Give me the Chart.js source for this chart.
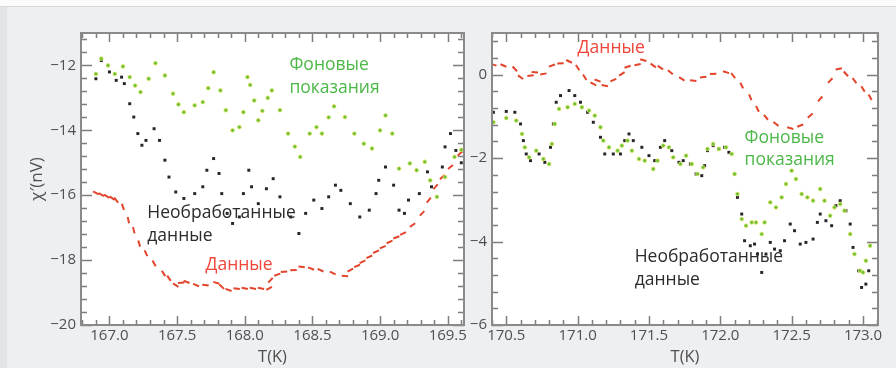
<!DOCTYPE html>
<html>
<head>
<meta charset="utf-8">
<script src="https://cdn.jsdelivr.net/npm/chart.js@4.4.1/dist/chart.umd.min.js"></script>
<style>
  html, body { margin: 0; padding: 0; }
  body { width: 896px; height: 368px; background: #eeeff1; position: relative; overflow: hidden; font-family: 'Open Sans', sans-serif; }
  #topStrip { position: absolute; left: 0; top: 0; width: 896px; height: 6px; background: #fbfbfb; border-bottom: 1px solid #d6d7d9; }
  #leftStrip { position: absolute; left: 0; top: 7px; width: 7px; height: 361px; background: #e3e4e6; }
  canvas { position: absolute; top: 0; }
  #leftChart { left: 0; }
  #rightChart { left: 450px; }
</style>
</head>
<body>
<div id="topStrip"></div>
<div id="leftStrip"></div>
<canvas id="leftChart" width="470" height="368"></canvas>
<canvas id="rightChart" width="446" height="368"></canvas>
<script>
// ---- left panel (167-169.5 K) ----
const xTicksLeft = [167.0, 167.5, 168.0, 168.5, 169.0, 169.5];
const yTicksLeft = [-20, -18, -16, -14, -12];

// background readings (green)
const bgLeftT = [166.90, 166.94, 166.99, 167.04, 167.10, 167.15, 167.19, 167.23, 167.29, 167.34, 167.41, 167.47, 167.51, 167.55, 167.63, 167.69, 167.73, 167.77, 167.82, 167.86, 167.91, 167.96, 167.99, 168.02, 168.04, 168.07, 168.10, 168.13, 168.17, 168.20, 168.26, 168.32, 168.37, 168.41, 168.48, 168.53, 168.57, 168.62, 168.66, 168.74, 168.81, 168.88, 168.94, 169.00, 169.04, 169.09, 169.14, 169.22, 169.27, 169.33, 169.37, 169.42, 169.48, 169.55, 169.60];
const bgLeftV = [-12.26, -11.79, -12.00, -12.26, -12.03, -12.36, -12.62, -12.82, -12.41, -11.93, -12.31, -12.87, -13.20, -13.44, -13.23, -13.13, -12.70, -12.21, -12.77, -13.38, -14.00, -13.90, -13.44, -12.36, -12.60, -13.08, -13.69, -13.40, -13.00, -12.77, -13.38, -14.10, -14.50, -14.82, -14.10, -13.90, -14.10, -13.60, -13.26, -13.59, -14.10, -14.41, -14.56, -14.00, -13.54, -14.10, -15.18, -15.02, -15.23, -14.97, -15.54, -16.05, -15.44, -14.82, -14.60];

// raw data (black)
const rawLeftT = [166.90, 166.94, 167.00, 167.05, 167.09, 167.11, 167.15, 167.18, 167.21, 167.24, 167.27, 167.33, 167.37, 167.41, 167.44, 167.49, 167.55, 167.63, 167.69, 167.72, 167.77, 167.81, 167.83, 167.87, 167.91, 167.96, 167.99, 168.03, 168.05, 168.10, 168.16, 168.21, 168.26, 168.34, 168.40, 168.45, 168.51, 168.57, 168.62, 168.67, 168.71, 168.78, 168.85, 168.92, 168.97, 168.99, 169.04, 169.10, 169.14, 169.18, 169.21, 169.29, 169.35, 169.38, 169.46, 169.48, 169.52, 169.56, 169.60];
const rawLeftV = [-12.41, -11.85, -12.20, -12.46, -12.36, -12.56, -13.18, -13.59, -14.10, -14.46, -14.31, -13.95, -14.31, -14.92, -15.44, -15.90, -16.10, -15.95, -15.74, -15.23, -14.87, -15.33, -15.95, -16.56, -16.87, -16.67, -15.95, -15.23, -15.74, -16.26, -15.80, -15.49, -16.05, -16.67, -17.18, -16.56, -16.15, -16.41, -16.05, -15.69, -15.85, -16.26, -16.67, -16.46, -15.95, -15.54, -15.13, -15.69, -16.46, -16.56, -16.15, -15.95, -15.28, -15.74, -15.13, -14.51, -14.10, -14.62, -15.00];

// data (red)
const dataLeftT = [166.90, 166.94, 166.98, 167.02, 167.05, 167.10, 167.14, 167.18, 167.22, 167.27, 167.33, 167.40, 167.44, 167.49, 167.53, 167.57, 167.64, 167.71, 167.79, 167.83, 167.88, 167.94, 168.00, 168.06, 168.12, 168.18, 168.19, 168.24, 168.29, 168.36, 168.42, 168.49, 168.56, 168.65, 168.74, 168.78, 168.83, 168.87, 168.92, 168.97, 169.02, 169.07, 169.12, 169.17, 169.24, 169.31, 169.36, 169.41, 169.46, 169.52, 169.59];
const dataLeftV = [-15.93, -15.98, -16.03, -16.09, -16.15, -16.36, -16.77, -17.08, -17.49, -17.79, -18.10, -18.41, -18.56, -18.77, -18.70, -18.67, -18.77, -18.77, -18.70, -18.82, -18.92, -18.88, -18.87, -18.87, -18.87, -18.87, -18.62, -18.45, -18.36, -18.31, -18.21, -18.26, -18.31, -18.40, -18.49, -18.31, -18.18, -18.05, -17.90, -17.74, -17.60, -17.44, -17.30, -17.18, -16.92, -16.56, -16.15, -15.74, -15.44, -15.13, -14.72];

// ---- right panel (170.5-173 K) ----
const xTicksRight = [170.5, 171.0, 171.5, 172.0, 172.5, 173.0];
const yTicksRight = [-6, -4, -2, 0];

const bgRightT = [170.41, 170.50, 170.57, 170.61, 170.63, 170.66, 170.71, 170.76, 170.80, 170.82, 170.84, 170.87, 170.93, 170.98, 171.03, 171.08, 171.12, 171.16, 171.18, 171.22, 171.28, 171.31, 171.35, 171.38, 171.43, 171.47, 171.53, 171.56, 171.60, 171.64, 171.67, 171.72, 171.76, 171.80, 171.84, 171.88, 171.91, 171.95, 171.99, 172.04, 172.08, 172.10, 172.12, 172.15, 172.18, 172.22, 172.25, 172.29, 172.31, 172.35, 172.39, 172.43, 172.46, 172.50, 172.53, 172.57, 172.61, 172.65, 172.70, 172.73, 172.77, 172.80, 172.84, 172.87, 172.91, 172.94, 172.98, 173.00, 173.02, 173.05];
const bgRightV = [-1.14, -1.04, -1.10, -1.42, -1.74, -1.98, -1.82, -2.02, -2.14, -1.66, -1.18, -0.82, -0.78, -0.70, -0.78, -0.86, -0.98, -1.26, -1.58, -1.74, -1.82, -1.70, -1.58, -1.82, -2.02, -2.06, -2.26, -2.06, -1.70, -1.74, -1.98, -2.14, -1.94, -2.14, -2.38, -2.22, -1.78, -1.66, -1.78, -1.74, -1.90, -2.38, -2.86, -3.46, -3.62, -3.54, -3.54, -3.82, -3.54, -3.06, -3.18, -2.94, -2.62, -2.30, -2.50, -2.86, -2.94, -3.02, -2.74, -3.02, -3.38, -3.18, -3.10, -3.26, -3.82, -4.30, -4.70, -4.74, -4.46, -4.10];

const rawRightT = [170.41, 170.50, 170.56, 170.60, 170.62, 170.64, 170.67, 170.73, 170.77, 170.81, 170.83, 170.85, 170.88, 170.94, 170.98, 171.02, 171.07, 171.11, 171.16, 171.19, 171.25, 171.30, 171.33, 171.36, 171.39, 171.45, 171.50, 171.54, 171.58, 171.61, 171.66, 171.71, 171.74, 171.79, 171.83, 171.87, 171.89, 171.91, 171.95, 171.99, 172.03, 172.06, 172.10, 172.12, 172.15, 172.17, 172.21, 172.24, 172.26, 172.29, 172.32, 172.35, 172.38, 172.42, 172.45, 172.49, 172.52, 172.56, 172.60, 172.65, 172.68, 172.70, 172.74, 172.78, 172.81, 172.84, 172.88, 172.91, 172.93, 172.97, 172.99, 173.02, 173.04];
const rawRightV = [-0.90, -0.88, -0.90, -1.18, -1.58, -1.90, -2.06, -1.90, -2.10, -1.74, -1.18, -0.66, -0.50, -0.38, -0.50, -0.66, -0.90, -1.14, -1.50, -1.90, -1.90, -1.90, -1.58, -1.42, -1.58, -1.74, -1.94, -2.06, -1.74, -1.58, -1.82, -2.10, -2.06, -2.14, -2.38, -2.42, -2.18, -1.82, -1.70, -1.78, -1.74, -1.86, -2.38, -2.94, -3.34, -3.98, -4.10, -4.06, -4.30, -4.74, -4.30, -4.02, -4.18, -4.22, -3.98, -3.58, -3.74, -4.06, -4.02, -3.94, -3.54, -3.34, -3.50, -3.62, -3.14, -3.02, -3.26, -3.58, -4.14, -4.70, -5.10, -5.02, -4.70];

const dataRightT = [170.41, 170.48, 170.56, 170.60, 170.67, 170.70, 170.76, 170.82, 170.88, 170.94, 171.00, 171.05, 171.11, 171.14, 171.19, 171.25, 171.31, 171.35, 171.42, 171.46, 171.53, 171.58, 171.65, 171.73, 171.81, 171.88, 171.95, 172.04, 172.09, 172.15, 172.21, 172.26, 172.32, 172.39, 172.49, 172.56, 172.63, 172.70, 172.77, 172.83, 172.88, 172.94, 173.00, 173.05];
const dataRightV = [0.24, 0.22, 0.14, -0.06, -0.02, 0.06, 0.02, 0.22, 0.27, 0.32, 0.17, -0.06, -0.22, -0.14, -0.26, -0.13, 0.02, 0.19, 0.24, 0.35, 0.22, 0.17, 0.06, -0.10, -0.14, -0.06, 0.02, 0.06, -0.02, -0.26, -0.54, -0.82, -1.02, -1.18, -1.28, -1.22, -0.98, -0.58, -0.14, 0.14, 0.02, -0.14, -0.34, -0.54];

const GREEN = '#62c043';
const GREEN_TEXT = '#4cb848';
const RED = '#e2452c';
const RED_TEXT = '#f0463a';
const BLACK = '#262626';

function pts(ts, vs) {
  return ts.map((t, i) => ({ x: t, y: vs[i] }));
}

function minus(v) {
  return String(v).replace('-', '\u2212');
}

// tilt each red dash along the local trend, a bit steeper like the original sawtooth
function dashAngle(ctx) {
  const ch = ctx.chart;
  const d = ctx.dataset.data;
  const i = ctx.dataIndex;
  if (!ch.scales || !ch.scales.x || i === undefined) return 15;
  const a = d[Math.max(0, i - 1)], b = d[Math.min(d.length - 1, i + 1)];
  const dx = ch.scales.x.getPixelForValue(b.x) - ch.scales.x.getPixelForValue(a.x);
  const dy = ch.scales.y.getPixelForValue(b.y) - ch.scales.y.getPixelForValue(a.y);
  return Math.atan2(dy, dx) * 180 / Math.PI + 12;
}

// white plot area, inward ticks on all sides, frame and curve labels
const framePlugin = {
  id: 'frame',
  beforeDraw(chart) {
    const { ctx, chartArea: a } = chart;
    ctx.save();
    ctx.fillStyle = '#ffffff';
    ctx.fillRect(a.left, a.top, a.right - a.left, a.bottom - a.top);
    ctx.restore();
  },
  afterDraw(chart) {
    const { ctx, chartArea: a, scales: { x, y } } = chart;
    const o = chart.options.plugins.frame;
    ctx.save();
    ctx.strokeStyle = '#7d7d7d';
    ctx.lineWidth = 1.5;
    ctx.beginPath();
    for (let t = Math.ceil(x.min / o.xMinor) * o.xMinor; t <= x.max; t += o.xMinor) {
      const px = Math.round(x.getPixelForValue(t)) + 0.5;
      const major = o.xMajor.some(m => Math.abs(m - t) < 1e-6);
      const len = major ? 9 : 5;
      ctx.moveTo(px, a.bottom); ctx.lineTo(px, a.bottom - len);
      ctx.moveTo(px, a.top); ctx.lineTo(px, a.top + len);
    }
    for (let v = Math.ceil(y.min / o.yMinor) * o.yMinor; v <= y.max + 1e-6; v += o.yMinor) {
      const py = Math.round(y.getPixelForValue(v)) + 0.5;
      const major = o.yMajor.some(m => Math.abs(m - v) < 1e-6);
      const len = major ? 11 : 6;
      ctx.moveTo(a.left, py); ctx.lineTo(a.left + len, py);
      ctx.moveTo(a.right, py); ctx.lineTo(a.right - len, py);
    }
    ctx.stroke();
    ctx.strokeStyle = '#8a8a8a';
    ctx.lineWidth = 2;
    ctx.strokeRect(a.left, a.top, a.right - a.left, a.bottom - a.top);

    ctx.font = '17.5px "Open Sans"';
    ctx.textAlign = 'left';
    ctx.textBaseline = 'middle';
    o.labels.forEach(l => {
      ctx.fillStyle = l.color;
      const px = x.getPixelForValue(l.t);
      const py = y.getPixelForValue(l.v);
      l.text.forEach((line, i) => ctx.fillText(line, px, py + i * 22.5));
    });
    ctx.restore();
  }
};

function makePanel(canvasId, cfg) {
  return new Chart(document.getElementById(canvasId), {
    type: 'scatter',
    data: {
      datasets: [
        {
          label: 'Фоновые показания',
          data: cfg.bg,
          pointStyle: 'circle',
          pointRadius: 1.9,
          backgroundColor: GREEN,
          borderColor: 'rgba(232, 228, 90, 0.8)',
          pointBorderWidth: 1
        },
        {
          label: 'Необработанные данные',
          data: cfg.raw,
          pointStyle: 'rect',
          pointRadius: 2.1,
          backgroundColor: BLACK,
          borderColor: BLACK,
          pointBorderWidth: 0
        },
        {
          label: 'Данные',
          data: cfg.data,
          pointStyle: 'line',
          pointRadius: 3.2,
          rotation: dashAngle,
          backgroundColor: RED,
          borderColor: RED,
          pointBorderWidth: 2
        }
      ]
    },
    options: {
      responsive: false,
      animation: false,
      devicePixelRatio: 1,
      layout: { padding: { left: 0, right: cfg.padRight, top: 33, bottom: 0 } },
      plugins: {
        legend: { display: false },
        tooltip: { enabled: false },
        frame: {
          xMinor: 0.1,
          yMinor: 0.4,
          xMajor: cfg.xTicks,
          yMajor: cfg.yTicks,
          labels: cfg.labels
        }
      },
      scales: {
        x: {
          type: 'linear',
          min: cfg.xMin,
          max: cfg.xMax,
          grid: { display: false, drawTicks: false },
          border: { display: false },
          afterBuildTicks: s => { s.ticks = cfg.xTicks.map(v => ({ value: v })); },
          afterFit: s => { s.height = 43; },
          ticks: {
            color: '#4f4f4f',
            padding: 2,
            maxRotation: 0,
            autoSkip: false,
            font: { family: 'Open Sans', size: 15 },
            callback: v => v.toFixed(1)
          },
          title: {
            display: true,
            text: 'T(K)',
            color: '#4f4f4f',
            font: { family: 'Open Sans', size: 16.5 },
            padding: { top: 0, bottom: 1 }
          }
        },
        y: {
          type: 'linear',
          min: cfg.yMin,
          max: cfg.yMax,
          grid: { display: false, drawTicks: false },
          border: { display: false },
          afterBuildTicks: s => { s.ticks = cfg.yTicks.map(v => ({ value: v })); },
          afterFit: s => { s.width = cfg.yWidth; },
          ticks: {
            color: '#4f4f4f',
            padding: 5,
            autoSkip: false,
            font: { family: 'Open Sans', size: 15 },
            callback: v => minus(v)
          },
          title: {
            display: cfg.yTitle !== '',
            text: cfg.yTitle,
            color: '#4f4f4f',
            font: { family: 'Open Sans', size: 17 },
            padding: { top: 27, bottom: 0 }
          }
        }
      }
    },
    plugins: [framePlugin]
  });
}

const leftChart = makePanel('leftChart', {
  bg: pts(bgLeftT, bgLeftV),
  raw: pts(rawLeftT, rawLeftV),
  data: pts(dataLeftT, dataLeftV),
  xMin: 166.79, xMax: 169.62,
  yMin: -20, yMax: -11,
  xTicks: xTicksLeft,
  yTicks: yTicksLeft,
  yWidth: 81,
  padRight: 2,
  yTitle: 'χ′(nV)',
  labels: [
    { text: ['Фоновые', 'показания'], t: 168.33, v: -12.0, color: GREEN_TEXT },
    { text: ['Необработанные', 'данные'], t: 167.28, v: -16.55, color: '#2b2b2b' },
    { text: ['Данные'], t: 167.71, v: -18.15, color: RED_TEXT }
  ]
});

const rightChart = makePanel('rightChart', {
  bg: pts(bgRightT, bgRightV),
  raw: pts(rawRightT, rawRightV),
  data: pts(dataRightT, dataRightV),
  xMin: 170.40, xMax: 173.105,
  yMin: -6, yMax: 1,
  xTicks: xTicksRight,
  yTicks: yTicksRight,
  yWidth: 42,
  padRight: 18,
  yTitle: '',
  labels: [
    { text: ['Данные'], t: 171.0, v: 0.65, color: RED_TEXT },
    { text: ['Фоновые', 'показания'], t: 172.17, v: -1.51, color: GREEN_TEXT },
    { text: ['Необработанные', 'данные'], t: 171.40, v: -4.38, color: '#2b2b2b' }
  ]
});
</script>
</body>
</html>
